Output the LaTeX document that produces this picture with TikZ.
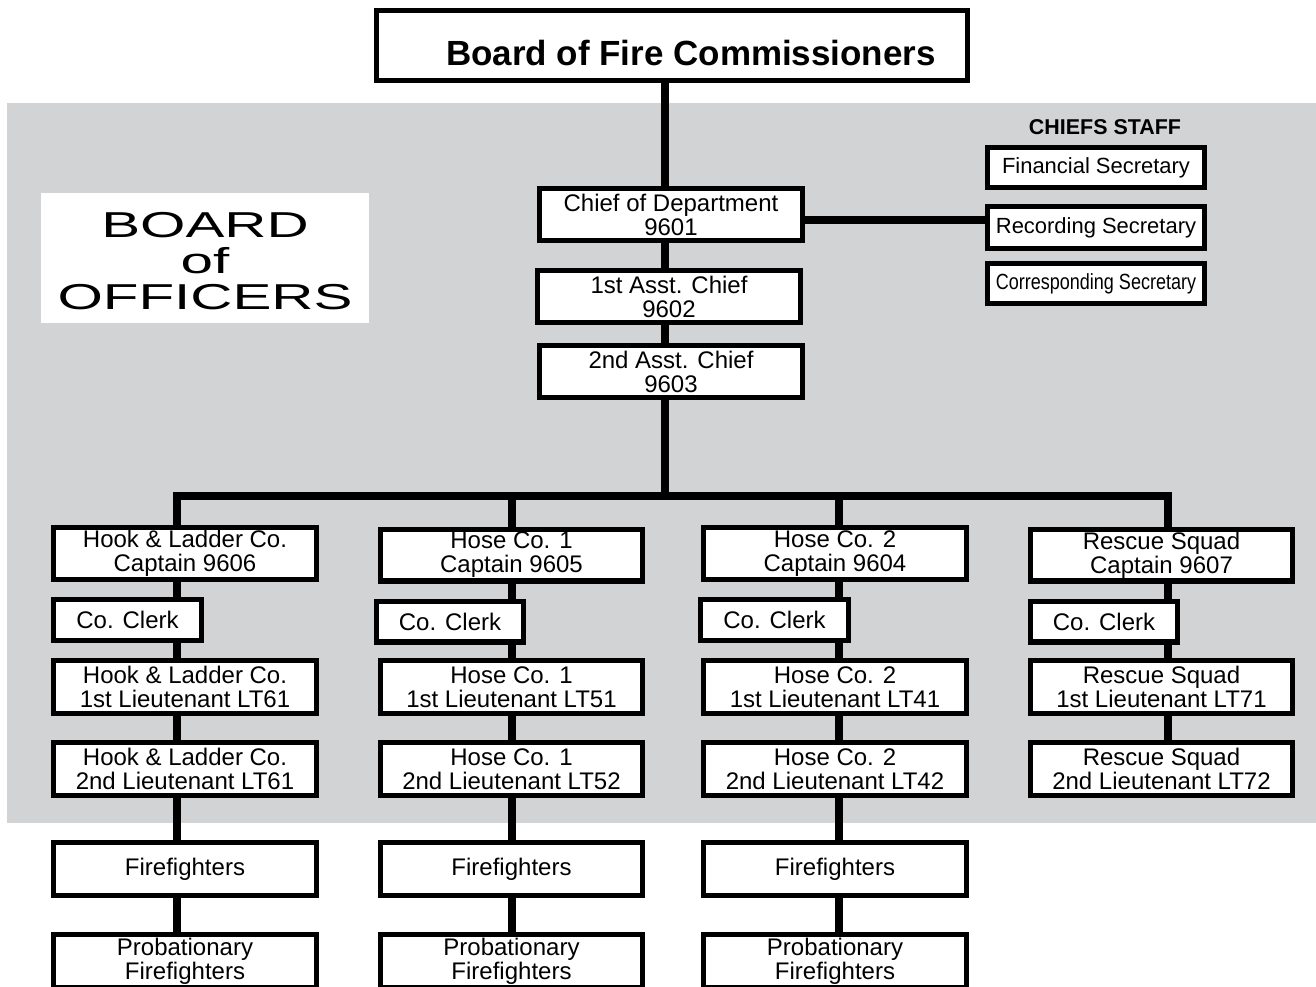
\documentclass[tikz,border=0pt]{standalone}
\usepackage{fontspec}
\setmainfont{Liberation Sans}
\usetikzlibrary{backgrounds}
\definecolor{panel}{HTML}{D1D3D4}
\newcommand{\boxfont}{\fontsize{13.66pt}{13.66pt}\selectfont}
\newcommand{\stafffont}{\fontsize{12.5pt}{12.5pt}\selectfont}

\begin{document}
\begin{tikzpicture}[x=0.02cm,y=-0.02cm,
  box/.style={draw,line width=2.85pt,fill=white,inner sep=0pt,align=center,font=\boxfont,minimum width=5.26cm,minimum height=1.04cm},
  clerk/.style={box,minimum width=2.96cm,minimum height=0.82cm},
  staff/.style={box,font=\stafffont,minimum width=4.34cm,minimum height=0.8cm},
  conn/.style={line width=4pt}]
\useasboundingbox (0,0) rectangle (1316,987);
%\draw[help lines,step=50] (0,0) grid (1316,987);
\node[box,line width=2.6pt,minimum width=11.83cm,minimum height=1.41cm,font=\fontsize{19.9pt}{20pt}\selectfont\bfseries] (board) at (672,45.5) {\hspace*{21.6pt}\raisebox{-11.1pt}[0pt][0pt]{Board of Fire Commissioners}};

\node[box] (chief) at (671,214.5) {Chief of Department\\9601};
\node[box] (asst1) at (669,296.5) {1st Asst. Chief\\9602};
\node[box] (asst2) at (671,371.5) {2nd Asst. Chief\\9603};

\node[font=\fontsize{12.2pt}{12.2pt}\selectfont\bfseries] (staff) at (1105,127) {CHIEFS STAFF};
\node[staff] (fin) at (1096,167.5) {Financial Secretary};
\node[staff,minimum height=0.84cm] (rec) at (1096,227.5) {Recording Secretary};
\node[staff] (corr) at (1096,283.5) {\scalebox{0.82}[1]{Corresponding Secretary}};

\node[fill=white,minimum width=6.56cm,minimum height=2.6cm,inner sep=0pt,font=\fontsize{20.5pt}{20.5pt}\selectfont] (officers) at (205,258) {\raisebox{-9.9pt}[0pt][0pt]{\scalebox{1.62}[1]{\begin{tabular}{@{}c@{}}BOARD\\of\\OFFICERS\end{tabular}}}};

\node[box] (cap1) at (185,553.5) {Hook \& Ladder Co.\\Captain 9606};
\node[clerk] (clk1) at (127.5,620) {Co. Clerk};
\node[box,minimum height=1.06cm] (lta1) at (185,687) {Hook \& Ladder Co.\\1st Lieutenant LT61};
\node[box,minimum height=1.06cm] (ltb1) at (185,769) {Hook \& Ladder Co.\\2nd Lieutenant LT61};
\node[box,minimum height=1.06cm] (ff1) at (185,869) {Firefighters};
\node[box,minimum height=1.06cm] (pb1) at (185,961) {Probationary\\Firefighters};

\node[box] (cap2) at (511.5,555) {Hose Co. 1\\Captain 9605};
\node[clerk] (clk2) at (450,621.5) {Co. Clerk};
\node[box,minimum height=1.06cm] (lta2) at (511.5,687) {Hose Co. 1\\1st Lieutenant LT51};
\node[box,minimum height=1.06cm] (ltb2) at (511.5,769) {Hose Co. 1\\2nd Lieutenant LT52};
\node[box,minimum height=1.06cm] (ff2) at (511.5,869) {Firefighters};
\node[box,minimum height=1.06cm] (pb2) at (511.5,961) {Probationary\\Firefighters};

\node[box] (cap3) at (835,553.5) {Hose Co. 2\\Captain 9604};
\node[clerk] (clk3) at (774.5,620) {Co. Clerk};
\node[box,minimum height=1.06cm] (lta3) at (835,687) {Hose Co. 2\\1st Lieutenant LT41};
\node[box,minimum height=1.06cm] (ltb3) at (835,769) {Hose Co. 2\\2nd Lieutenant LT42};
\node[box,minimum height=1.06cm] (ff3) at (835,869) {Firefighters};
\node[box,minimum height=1.06cm] (pb3) at (835,961) {Probationary\\Firefighters};

\node[box] (cap4) at (1161.5,555) {Rescue Squad\\Captain 9607};
\node[clerk] (clk4) at (1104,621.5) {Co. Clerk};
\node[box,minimum height=1.06cm] (lta4) at (1161.5,687) {Rescue Squad\\1st Lieutenant LT71};
\node[box,minimum height=1.06cm] (ltb4) at (1161.5,769) {Rescue Squad\\2nd Lieutenant LT72};

\begin{scope}[on background layer]
\fill[panel] (7,103) rectangle (1316,823);
\coordinate (hub) at (665,496);
\coordinate (b1) at (177,496);
\coordinate (b2) at (512,496);
\coordinate (b3) at (839,496);
\coordinate (b4) at (1168,496);
\draw[conn] (board -| hub) -- (hub);
\draw[conn] ([yshift=-0.11cm]chief.east) -- ([yshift=-0.11cm]chief.east -| rec.west);
\draw[conn] (b1 |- pb1) -- (b1) -- (b4) -- (b4 |- ltb4);
\draw[conn] (b2) -- (b2 |- pb2);
\draw[conn] (b3) -- (b3 |- pb3);
\end{scope}
\end{tikzpicture}
\end{document}
